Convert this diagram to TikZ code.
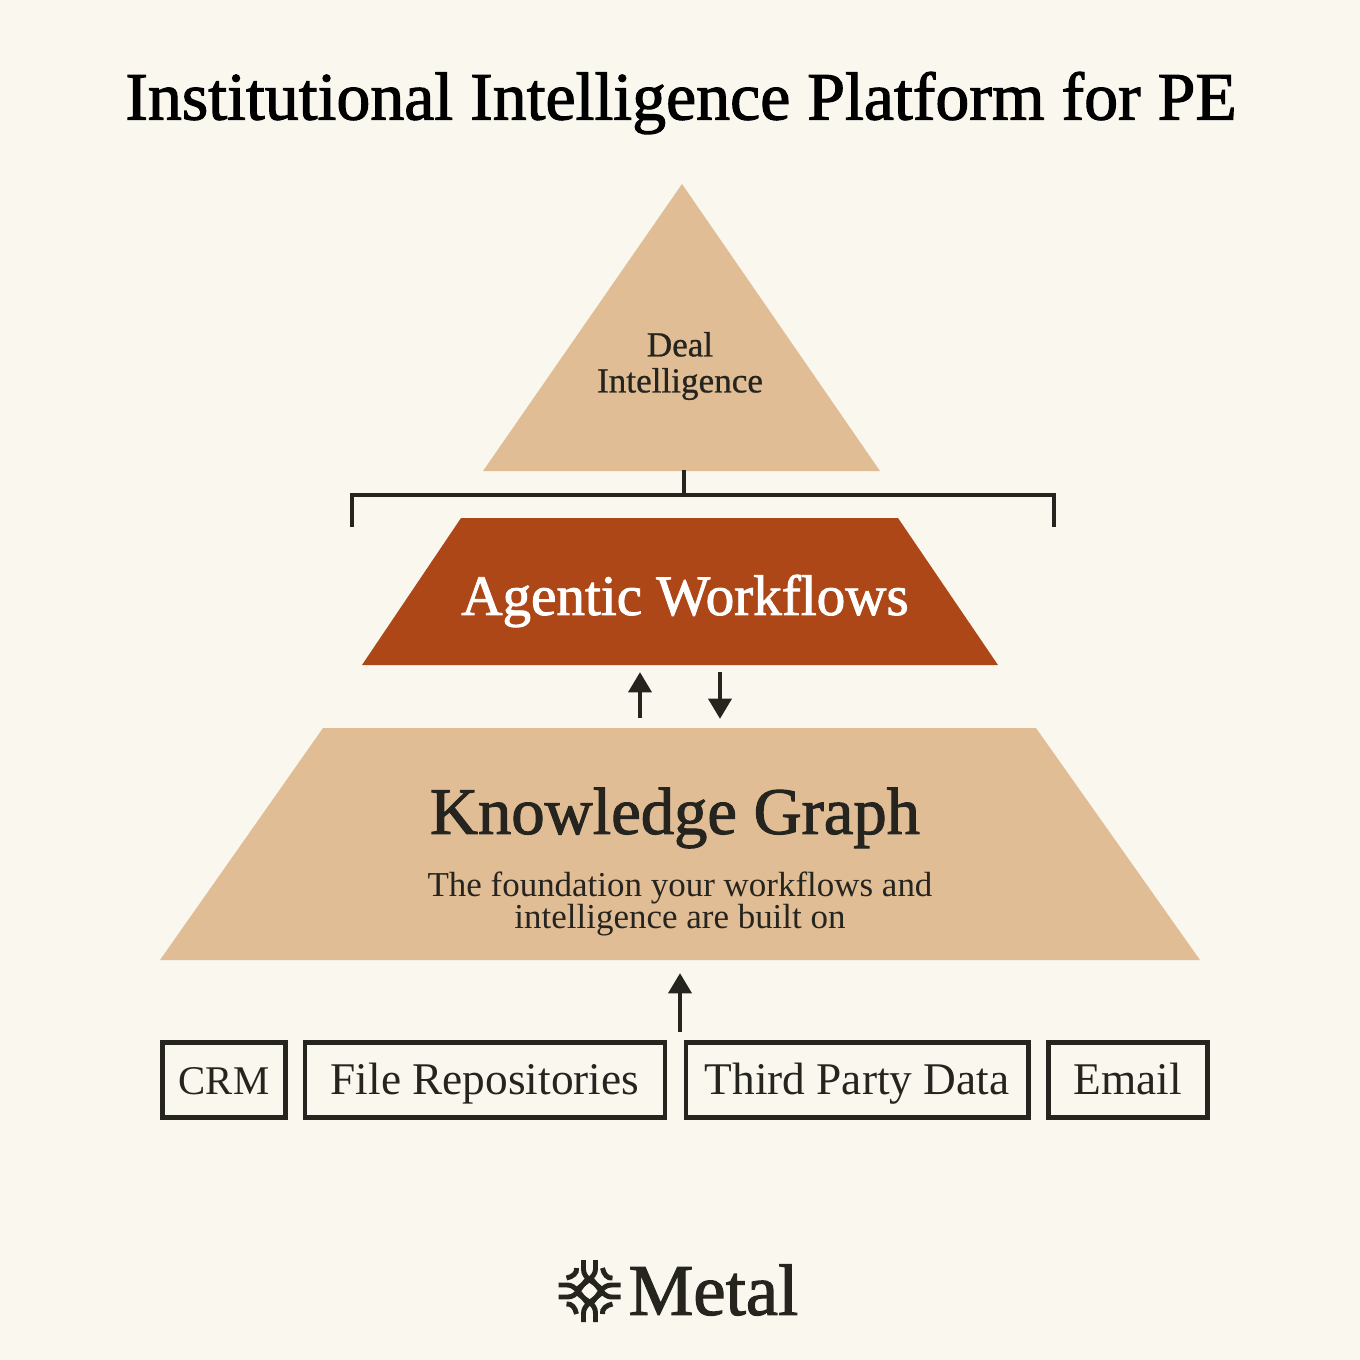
\documentclass[tikz,border=0pt]{standalone}
\usepackage{fontspec}
\usepackage{xcolor}
\usetikzlibrary{arrows.meta}
\setmainfont{Liberation Serif}
\newfontfamily\headfont[FakeBold=1.6]{Liberation Serif}
\newfontfamily\midfont[FakeBold=0.7]{Liberation Serif}
\definecolor{pagecream}{HTML}{FAF7EF}
\definecolor{tansand}{HTML}{E1BD96}
\definecolor{rustred}{HTML}{AE4717}
\definecolor{inkdark}{HTML}{25241F}
\tikzset{
  linktick/.style={draw=inkdark,line width=2.4pt},
  linkarrow/.style={draw=inkdark,line width=2.4pt,-{Triangle[length=11.5pt,width=13pt]},shorten >=-0.5pt},
  sourcebox/.style={draw=inkdark,line width=2.7pt,inner sep=0pt,minimum height=42.6pt,text height=18pt,text depth=2pt,text=inkdark,font=\fontsize{25.8}{28}\selectfont},
  knotband/.style={draw=inkdark,line width=2.8pt,line cap=butt}
}
\begin{document}
\begin{tikzpicture}[x=0.02cm,y=-0.02cm]
    \fill[pagecream] (0,0) rectangle (1360,1360);
    \useasboundingbox (0,0) rectangle (1360,1360);
    % title
    \node[text=black,font=\fontsize{38.6}{40}\selectfont\headfont] (title) at (681,103) {Institutional Intelligence Platform for PE};
    % pyramid
    \fill[tansand] (682,184) -- (880,471) -- (483,471) -- cycle;
    \fill[rustred] (461,518) -- (898,518) -- (998,665) -- (362,665) -- cycle;
    \fill[tansand] (323,728) -- (1036,728) -- (1200,960) -- (160,960) -- cycle;
    \node[text=inkdark,font=\fontsize{20}{20.5}\selectfont\midfont,align=center] (deal) at (680,366) {Deal\\Intelligence};
    \node[text=white,font=\fontsize{32.5}{36}\selectfont\headfont] (agentic) at (685,601) {Agentic Workflows};
    \node[text=inkdark,font=\fontsize{37.9}{40}\selectfont\headfont] (graph) at (675,818) {Knowledge Graph};
    \node[text=inkdark,font=\fontsize{19.9}{18.5}\selectfont,align=center] (graphnote) at (680,904) {The foundation your workflows and\\intelligence are built on};
    % bracket under the top
    \coordinate (apex) at (684,470);
    \coordinate (joint) at (684,495);
    \coordinate (bracketl) at (352,527);
    \coordinate (bracketr) at (1054,527);
    \draw[linktick] (apex) -- (joint);
    \draw[linktick] (bracketl) -- (bracketl |- joint) -- (bracketr |- joint) -- (bracketr);
    % arrows
    \coordinate (upa) at (640,718);
    \coordinate (upb) at (640,673);
    \coordinate (downa) at (720,672);
    \coordinate (downb) at (720,718);
    \coordinate (feeda) at (680,1032);
    \coordinate (feedb) at (680,974);
    \draw[linkarrow] (upa) -- (upb);
    \draw[linkarrow] (downa) -- (downb);
    \draw[linkarrow] (feeda) -- (feedb);
    % sources
    \node[sourcebox,minimum width=70pt,font=\fontsize{23.2}{28}\selectfont] (crm) at (224,1080) {CRM};
    \node[sourcebox,minimum width=205pt] (files) at (485,1080) {File Repositories};
    \node[sourcebox,minimum width=194.8pt] (third) at (857,1080) {Third Party Data};
    \node[sourcebox,minimum width=90.5pt] (email) at (1128,1080) {Email};
    % logo
    \foreach \a in {0,90,180,270}{
      \begin{scope}[shift={(589.5,1291)},rotate=\a]
        \draw[knotband] (-6,-31) -- (-6,-22) .. controls (-6,-12) and (4,-10) .. (13,-1);
        \draw[knotband] (6,-31) -- (6,-22) .. controls (6,-14) and (-4,-9) .. (-12,-2);
        \draw[knotband] (-13,-23) .. controls (-12,-18) and (-17,-14) .. (-23,-13);
      \end{scope}
    }
    \node[text=inkdark,font=\fontsize{41.4}{40}\selectfont\headfont] (metal) at (713.5,1290) {Metal};
\end{tikzpicture}
\end{document}
